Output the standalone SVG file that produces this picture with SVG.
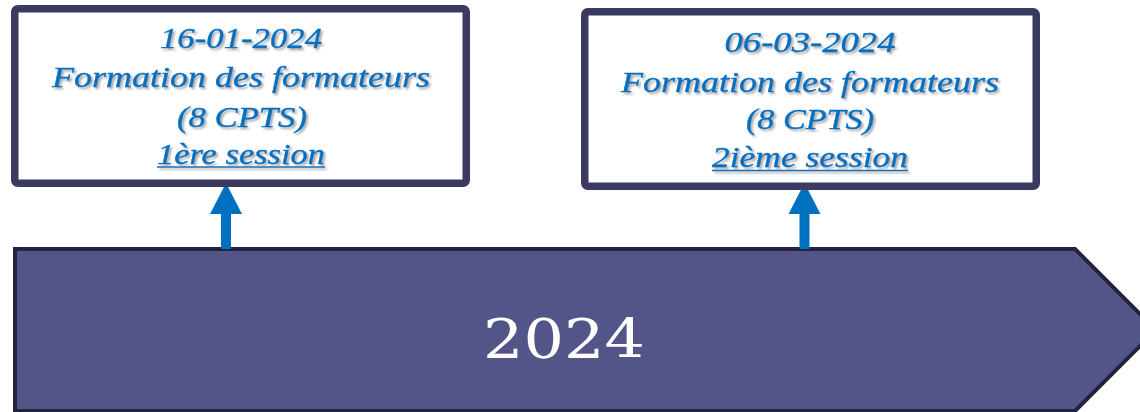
<svg xmlns="http://www.w3.org/2000/svg" width="1140" height="412" viewBox="0 0 1140 412">
  <defs>
    <filter id="shadow" x="-10%" y="-30%" width="120%" height="160%">
      <feDropShadow dx="2" dy="2" stdDeviation="1.2" flood-color="#7a7a7a" flood-opacity="0.65"/>
    </filter>
  </defs>
  <style>
    .box { fill: #ffffff; stroke: #3B3A60; stroke-width: 7.5; }
    .lbl { font-family: "Liberation Serif", "DejaVu Serif", serif; font-style: italic; font-size: 30px; fill: #0070C0; stroke: #0070C0; stroke-width: 0.4; text-anchor: middle; }
    .ul { stroke: #0070C0; stroke-width: 1.5; }
    .shaft { stroke: #0070C0; stroke-width: 10; fill: none; }
    .head { fill: #0070C0; }
    .banner { fill: #535588; stroke: #23233F; stroke-width: 4; stroke-linejoin: miter; }
    .year { font-family: "DejaVu Serif", "Liberation Serif", serif; font-size: 55px; fill: #ffffff; text-anchor: middle; }
  </style>

  <g id="banner">
    <polygon class="banner" points="15,249 1075,249 1156,330 1075,411 15,411"/>
    <text class="year" x="564" y="358" textLength="162" lengthAdjust="spacingAndGlyphs">2024</text>
  </g>

  <g id="connectors">
    <path d="M226 249 V212" class="shaft"/>
    <path d="M226 183 L242 214 L210 214 Z" class="head"/>
    <path d="M804.5 249 V212" class="shaft"/>
    <path d="M804.5 183 L820.5 214 L788.5 214 Z" class="head"/>
  </g>

  <g id="node-session1">
    <rect class="box" x="14.75" y="8.75" width="451.5" height="174.5" rx="3"/>
    <g filter="url(#shadow)">
      <text class="lbl" x="241" y="48" textLength="162" lengthAdjust="spacingAndGlyphs">16-01-2024</text>
      <text class="lbl" x="241" y="87" textLength="378" lengthAdjust="spacingAndGlyphs">Formation des formateurs</text>
      <text class="lbl" x="242" y="126.5" textLength="130" lengthAdjust="spacingAndGlyphs">(8 CPTS)</text>
      <text class="lbl" x="241" y="163.5" textLength="168" lengthAdjust="spacingAndGlyphs">1ère session</text>
      <line class="ul" x1="157" y1="167" x2="325" y2="167"/>
    </g>
  </g>

  <g id="node-session2">
    <rect class="box" x="584.75" y="11.75" width="451.5" height="174.5" rx="3"/>
    <g filter="url(#shadow)">
      <text class="lbl" x="810" y="52" textLength="171" lengthAdjust="spacingAndGlyphs">06-03-2024</text>
      <text class="lbl" x="810" y="91.5" textLength="378" lengthAdjust="spacingAndGlyphs">Formation des formateurs</text>
      <text class="lbl" x="810" y="129" textLength="128" lengthAdjust="spacingAndGlyphs">(8 CPTS)</text>
      <text class="lbl" x="810" y="167" textLength="196" lengthAdjust="spacingAndGlyphs">2ième session</text>
      <line class="ul" x1="712" y1="170.5" x2="908" y2="170.5"/>
    </g>
  </g>
</svg>
